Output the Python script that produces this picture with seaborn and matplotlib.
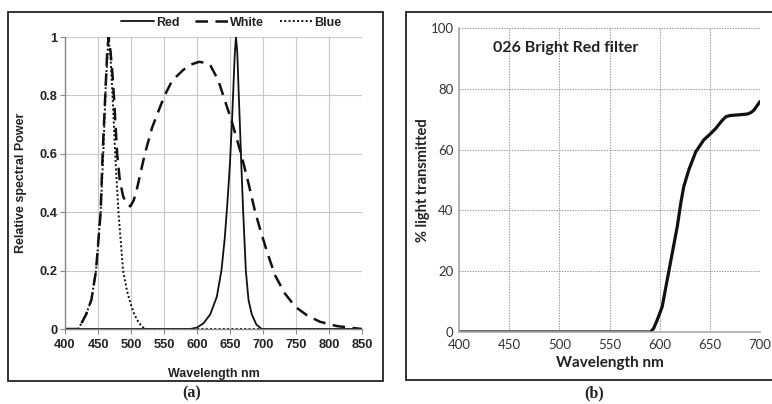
import matplotlib
matplotlib.use("Agg")
import matplotlib.pyplot as plt
from matplotlib.patches import Rectangle
from matplotlib.lines import Line2D
import seaborn as sns
import pandas as pd

sns.set_theme(style="white")

# ---- (a) LED spectra ----
red_nm = [400, 590, 600, 610, 620, 630, 637, 642, 646, 650, 653, 655, 657, 659, 661, 663, 665, 667, 670, 674,
          678, 683, 690, 698, 850]
red_pw = [0, 0, 0.005, 0.02, 0.05, 0.11, 0.2, 0.31, 0.43, 0.57, 0.71, 0.82, 0.93, 1.0, 0.95, 0.82, 0.7, 0.57,
          0.4, 0.2, 0.1, 0.05, 0.015, 0, 0]

white_nm = [400, 420, 425, 432, 440, 447, 454, 457, 461, 464, 466, 469, 472, 474, 479, 483, 488, 493, 499,
            504, 509, 515, 521, 532, 544, 551, 560, 569, 579, 590, 603, 612, 620, 632, 642, 652, 667, 678,
            688, 696, 706, 718, 733, 749, 766, 786, 812, 834, 850]
white_pw = [0, 0, 0.02, 0.05, 0.1, 0.2, 0.4, 0.6, 0.8, 0.95, 1.0, 0.95, 0.87, 0.8, 0.6, 0.51, 0.455, 0.43, 0.42,
            0.44, 0.48, 0.54, 0.6, 0.69, 0.76, 0.8, 0.84, 0.865, 0.887, 0.905, 0.915, 0.912, 0.904, 0.853, 0.784,
            0.716, 0.598, 0.499, 0.402, 0.339, 0.265, 0.185, 0.122, 0.076, 0.048, 0.025, 0.01, 0.004, 0]

blue_nm = [400, 420, 425, 432, 440, 447, 454, 458, 462, 466, 469, 472, 476, 481, 488, 494, 499, 505, 511, 516, 521, 850]
blue_pw = [0, 0, 0.02, 0.05, 0.1, 0.2, 0.4, 0.6, 0.85, 1.0, 0.93, 0.8, 0.6, 0.4, 0.2, 0.13, 0.09, 0.05, 0.025, 0.01, 0, 0]

a_xticks = [400, 450, 500, 550, 600, 650, 700, 750, 800, 850]
a_yticks = [0, 0.2, 0.4, 0.6, 0.8, 1.0]
a_ylabels = ["0", "0.2", "0.4", "0.6", "0.8", "1"]

# ---- (b) filter transmission ----
filt_nm = [400, 591, 594, 597.5, 602.5, 607.5, 612.5, 617.5, 621, 624, 629, 636, 644, 650, 656, 662, 666, 670,
           677.5, 687.5, 691, 694, 700]
filt_pct = [0, 0, 1.2, 3.9, 8.3, 17.1, 25.9, 34.6, 42.3, 47.8, 53.3, 59.3, 63.2, 65.0, 67.0, 69.5, 70.8, 71.2,
            71.4, 71.7, 72.2, 73.0, 75.8]

b_xticks = [400, 450, 500, 550, 600, 650, 700]
b_yticks = [0, 20, 40, 60, 80, 100]

W, H = 772, 404
fig = plt.figure(figsize=(W / 100, H / 100), dpi=100)
fig.patch.set_facecolor("white")


def box(x0, y0, x1, y1):
    return [x0 / W, 1 - y1 / H, (x1 - x0) / W, (y1 - y0) / H]


# outer frames around each panel
for (x0, y0, x1, y1) in [(8, 12, 383, 381), (406, 12, 773, 380)]:
    r = box(x0, y0, x1, y1)
    fig.patches.append(Rectangle((r[0], r[1]), r[2], r[3], transform=fig.transFigure,
                                 fill=False, edgecolor="#222222", linewidth=1.3))

arial = ["Liberation Sans", "DejaVu Sans"]
calib = ["Lato", "DejaVu Sans"]

# ---------- panel (a) ----------
ax1 = fig.add_axes(box(65, 37, 362, 329))
dfr = pd.DataFrame({"nm": red_nm, "p": red_pw})
dfw = pd.DataFrame({"nm": white_nm, "p": white_pw})
dfb = pd.DataFrame({"nm": blue_nm, "p": blue_pw})
sns.lineplot(data=dfb, x="nm", y="p", ax=ax1, color="#111111", linewidth=1.4,
             linestyle=(0, (1, 1.2)), label="Blue")
sns.lineplot(data=dfr, x="nm", y="p", ax=ax1, color="#111111", linewidth=1.3, label="Red")
sns.lineplot(data=dfw, x="nm", y="p", ax=ax1, color="#111111", linewidth=1.8,
             linestyle=(0, (5, 3)), label="White")
ax1.set_xlim(400, 850)
ax1.set_ylim(0, 1)
ax1.set_xticks(a_xticks)
ax1.set_yticks(a_yticks)
ax1.set_yticklabels(a_ylabels)
ax1.grid(True, color="#c8c8c8", linewidth=0.8)
ax1.set_axisbelow(True)
for s in ["top", "right"]:
    ax1.spines[s].set_visible(False)
for s in ["left", "bottom"]:
    ax1.spines[s].set_color("#8a8a8a")
    ax1.spines[s].set_linewidth(1.0)
ax1.tick_params(axis="both", direction="out", length=3.5, width=0.8, color="#8a8a8a",
                labelsize=9.3, pad=2, left=True, bottom=True)
ax1.tick_params(axis="x", pad=4)
for t in ax1.get_xticklabels() + ax1.get_yticklabels():
    t.set_fontfamily(arial)
    t.set_fontweight("bold")
    t.set_color("#222222")
ax1.set_xlabel("Wavelength nm", fontsize=9, fontweight="bold", family=arial,
               color="#222222", labelpad=12)
ax1.set_ylabel("Relative spectral Power", fontsize=9, fontweight="bold", family=arial,
               color="#222222", labelpad=9)
handles = [Line2D([], [], color="#111111", lw=1.3),
           Line2D([], [], color="#111111", lw=1.8, linestyle=(0, (5, 3))),
           Line2D([], [], color="#111111", lw=1.4, linestyle=(0, (1, 1.2)))]
leg = ax1.legend(handles, ["Red", "White", "Blue"], ncol=3, loc="lower center",
                 bbox_to_anchor=(0.56, 0.99), frameon=False, handlelength=2.6,
                 handletextpad=0.15, columnspacing=1.3,
                 prop={"family": arial, "weight": "bold", "size": 9})
for t in leg.get_texts():
    t.set_color("#222222")

# ---------- panel (b) ----------
ax2 = fig.add_axes(box(459, 28, 760, 332))
dff = pd.DataFrame({"nm": filt_nm, "pct": filt_pct})
sns.lineplot(data=dff, x="nm", y="pct", ax=ax2, color="#111111", linewidth=2.3)
ax2.set_xlim(400, 700)
ax2.set_ylim(0, 100)
ax2.set_xticks(b_xticks)
ax2.set_yticks(b_yticks)
ax2.grid(True, color="#9a9a9a", linewidth=0.7, linestyle=(0, (1.5, 1.2)))
ax2.set_axisbelow(True)
for s in ["top", "right"]:
    ax2.spines[s].set_visible(False)
for s in ["left", "bottom"]:
    ax2.spines[s].set_color("#aaaaaa")
    ax2.spines[s].set_linewidth(1.2)
ax2.tick_params(axis="both", length=0, labelsize=9.5)
ax2.tick_params(axis="x", pad=5)
ax2.tick_params(axis="y", pad=4)
for t in ax2.get_xticklabels() + ax2.get_yticklabels():
    t.set_fontfamily(calib)
    t.set_color("#333333")
ax2.set_xlabel("Wavelength nm", fontsize=11, fontweight="bold", family=calib,
               color="#222222", labelpad=4)
ax2.set_ylabel("% light transmitted", fontsize=10.5, fontweight="bold", family=calib,
               color="#222222", labelpad=0)
ax2.text(0.113, 0.935, "026 Bright Red filter", transform=ax2.transAxes, fontsize=11.5,
         fontweight="bold", family=calib, color="#222222", va="center", ha="left")

# panel captions
serif = ["Liberation Serif", "DejaVu Serif"]
fig.text(192 / W, 1 - 393 / H, "(a)", ha="center", va="center", fontsize=11.5,
         fontweight="bold", family=serif, color="#222222")
fig.text(594 / W, 1 - 393 / H, "(b)", ha="center", va="center", fontsize=11.5,
         fontweight="bold", family=serif, color="#222222")

fig.savefig("out.png", dpi=100, facecolor="white")
